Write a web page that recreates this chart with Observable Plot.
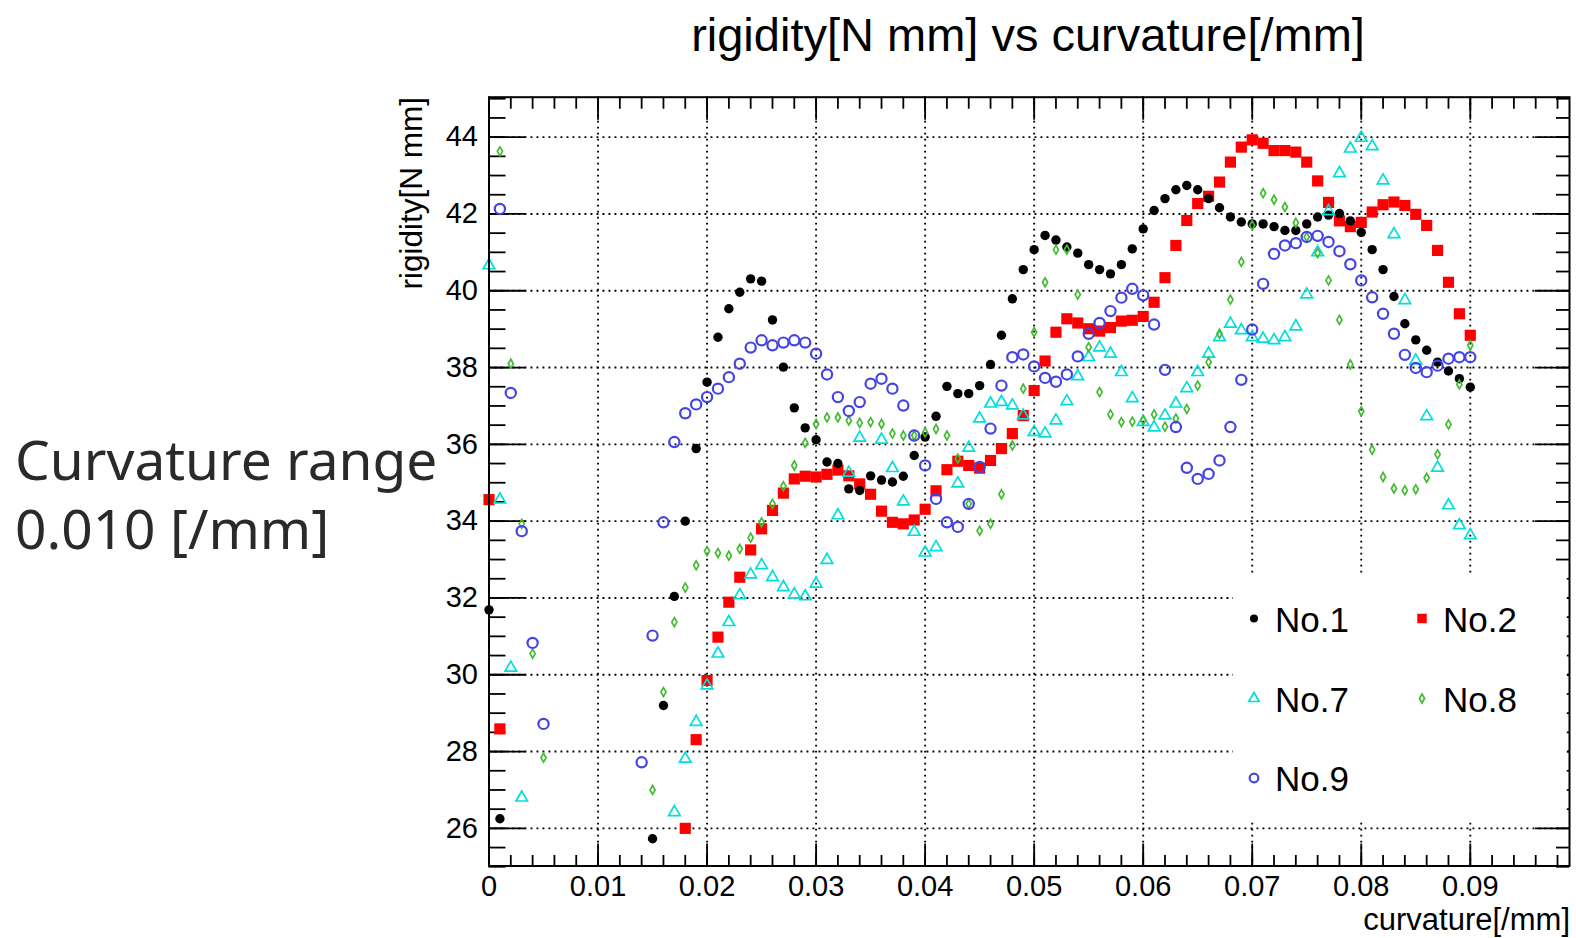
<!DOCTYPE html>
<html>
<head>
<meta charset="utf-8">
<script src="https://cdn.jsdelivr.net/npm/d3@7"></script>
<script src="https://cdn.jsdelivr.net/npm/@observablehq/plot@0.6"></script>
<style>
  body { margin: 0; background: #fff; }
  #wrap { position: relative; width: 1576px; height: 938px; overflow: hidden; background: #fff; }
  #chart { position: absolute; left: 0; top: 0; }
  #overlay { position: absolute; left: 0; top: 0; pointer-events: none; }
</style>
</head>
<body>
<div id="wrap"><div id="chart"></div></div>
<script>
// ---------- data: [curvature (/mm), rigidity (N mm)] ----------
const no1 = [[0,31.69],[0.001,26.25],[0.015,25.73],[0.016,29.2],[0.017,32.04],[0.018,34.0],[0.019,35.89],[0.02,37.62],[0.021,38.79],[0.022,39.53],[0.023,39.96],[0.024,40.31],[0.025,40.25],[0.026,39.24],[0.027,38.01],[0.028,36.95],[0.029,36.43],[0.03,36.12],[0.031,35.54],[0.032,35.5],[0.033,34.84],[0.034,34.8],[0.035,35.18],[0.036,35.07],[0.037,35.02],[0.038,35.17],[0.039,35.71],[0.04,36.19],[0.041,36.73],[0.042,37.51],[0.043,37.32],[0.044,37.32],[0.045,37.53],[0.046,38.08],[0.047,38.84],[0.048,39.79],[0.049,40.55],[0.05,41.07],[0.051,41.44],[0.052,41.32],[0.053,41.14],[0.054,40.98],[0.055,40.68],[0.056,40.55],[0.057,40.44],[0.058,40.68],[0.059,41.09],[0.06,41.61],[0.061,42.09],[0.062,42.4],[0.063,42.63],[0.064,42.74],[0.065,42.63],[0.066,42.4],[0.067,42.16],[0.068,41.92],[0.069,41.79],[0.07,41.74],[0.071,41.74],[0.072,41.67],[0.073,41.57],[0.074,41.57],[0.075,41.74],[0.076,41.92],[0.077,41.97],[0.078,42.01],[0.079,41.82],[0.08,41.52],[0.081,41.07],[0.082,40.55],[0.083,39.85],[0.084,39.14],[0.085,38.72],[0.086,38.45],[0.087,38.14],[0.088,37.91],[0.089,37.71],[0.09,37.49]];

const no2 = [[0,34.56],[0.001,28.59],[0.018,26.0],[0.019,28.31],[0.02,29.85],[0.021,30.98],[0.022,31.89],[0.023,32.54],[0.024,33.25],[0.025,33.8],[0.026,34.28],[0.027,34.73],[0.028,35.1],[0.029,35.17],[0.03,35.15],[0.031,35.22],[0.032,35.33],[0.033,35.18],[0.034,34.97],[0.035,34.7],[0.036,34.26],[0.037,33.97],[0.038,33.93],[0.039,34.03],[0.04,34.31],[0.041,34.79],[0.042,35.34],[0.043,35.56],[0.044,35.45],[0.045,35.38],[0.046,35.58],[0.047,35.89],[0.048,36.28],[0.049,36.75],[0.05,37.4],[0.051,38.17],[0.052,38.92],[0.053,39.27],[0.054,39.16],[0.055,39.01],[0.056,38.95],[0.057,39.04],[0.058,39.21],[0.059,39.23],[0.06,39.33],[0.061,39.7],[0.062,40.34],[0.063,41.18],[0.064,41.83],[0.065,42.27],[0.066,42.46],[0.067,42.83],[0.068,43.35],[0.069,43.74],[0.07,43.93],[0.071,43.84],[0.072,43.65],[0.073,43.65],[0.074,43.61],[0.075,43.35],[0.076,42.86],[0.077,42.3],[0.078,41.82],[0.079,41.67],[0.08,41.78],[0.081,42.05],[0.082,42.24],[0.083,42.31],[0.084,42.22],[0.085,41.99],[0.086,41.7],[0.087,41.05],[0.088,40.22],[0.089,39.4],[0.09,38.84]];

const no7 = [[0,40.66],[0.001,34.56],[0.002,30.18],[0.003,26.8],[0.017,26.42],[0.018,27.81],[0.019,28.77],[0.02,29.72],[0.021,30.55],[0.022,31.37],[0.023,32.07],[0.024,32.61],[0.025,32.85],[0.026,32.54],[0.027,32.28],[0.028,32.09],[0.029,32.04],[0.03,32.37],[0.031,32.99],[0.032,34.15],[0.033,35.26],[0.034,36.17],[0.036,36.12],[0.037,35.38],[0.038,34.51],[0.039,33.72],[0.04,33.18],[0.041,33.32],[0.043,34.98],[0.044,35.91],[0.045,36.67],[0.046,37.06],[0.047,37.1],[0.048,37.01],[0.049,36.75],[0.05,36.32],[0.051,36.28],[0.052,36.62],[0.053,37.12],[0.054,37.77],[0.055,38.27],[0.056,38.52],[0.057,38.36],[0.058,37.88],[0.059,37.2],[0.06,36.58],[0.061,36.44],[0.062,36.75],[0.063,37.06],[0.064,37.46],[0.065,37.88],[0.066,38.36],[0.067,38.79],[0.068,39.14],[0.069,38.97],[0.07,38.79],[0.071,38.75],[0.072,38.71],[0.073,38.79],[0.074,39.07],[0.075,39.9],[0.076,41.0],[0.077,42.07],[0.078,43.06],[0.079,43.7],[0.08,43.98],[0.081,43.76],[0.082,42.87],[0.083,41.47],[0.084,39.75],[0.085,38.18],[0.086,36.73],[0.087,35.39],[0.088,34.41],[0.089,33.89],[0.09,33.63]];

const no8 = [[0.001,43.63],[0.002,38.1],[0.003,33.93],[0.004,30.55],[0.005,27.84],[0.015,27.0],[0.016,29.55],[0.017,31.37],[0.018,32.27],[0.019,32.85],[0.02,33.22],[0.021,33.17],[0.022,33.1],[0.023,33.28],[0.024,33.57],[0.025,33.97],[0.026,34.45],[0.027,34.91],[0.028,35.45],[0.029,36.04],[0.03,36.53],[0.031,36.7],[0.032,36.7],[0.033,36.62],[0.034,36.56],[0.035,36.58],[0.036,36.53],[0.037,36.28],[0.038,36.23],[0.039,36.23],[0.04,36.31],[0.041,36.4],[0.042,36.23],[0.043,35.63],[0.044,34.45],[0.045,33.75],[0.046,33.93],[0.047,34.7],[0.048,35.97],[0.049,37.45],[0.05,38.92],[0.051,40.22],[0.052,41.07],[0.053,41.07],[0.054,39.9],[0.055,38.53],[0.056,37.36],[0.057,36.78],[0.058,36.58],[0.059,36.59],[0.06,36.63],[0.061,36.78],[0.062,36.46],[0.063,36.67],[0.064,36.92],[0.065,37.53],[0.066,38.14],[0.067,38.88],[0.068,39.77],[0.069,40.75],[0.07,41.7],[0.071,42.54],[0.072,42.37],[0.073,42.18],[0.074,41.77],[0.075,41.4],[0.076,40.98],[0.077,40.27],[0.078,39.24],[0.079,38.08],[0.08,36.86],[0.081,35.86],[0.082,35.15],[0.083,34.85],[0.084,34.8],[0.085,34.83],[0.086,35.13],[0.087,35.74],[0.088,36.52],[0.089,37.56],[0.09,38.58]];

const no9 = [[0.001,42.13],[0.002,37.34],[0.003,33.74],[0.004,30.83],[0.005,28.72],[0.014,27.72],[0.015,31.02],[0.016,33.97],[0.017,36.06],[0.018,36.81],[0.019,37.04],[0.02,37.23],[0.021,37.45],[0.022,37.75],[0.023,38.1],[0.024,38.52],[0.025,38.71],[0.026,38.58],[0.027,38.65],[0.028,38.71],[0.029,38.65],[0.03,38.36],[0.031,37.82],[0.032,37.23],[0.033,36.87],[0.034,37.1],[0.035,37.58],[0.036,37.71],[0.037,37.45],[0.038,37.01],[0.039,36.23],[0.04,35.45],[0.041,34.58],[0.042,33.97],[0.043,33.85],[0.044,34.45],[0.045,35.41],[0.046,36.41],[0.047,37.53],[0.048,38.27],[0.049,38.34],[0.05,38.03],[0.051,37.73],[0.052,37.63],[0.053,37.82],[0.054,38.29],[0.055,38.88],[0.056,39.16],[0.057,39.47],[0.058,39.82],[0.059,40.05],[0.06,39.88],[0.061,39.12],[0.062,37.94],[0.063,36.45],[0.064,35.39],[0.065,35.1],[0.066,35.23],[0.067,35.58],[0.068,36.45],[0.069,37.68],[0.07,38.99],[0.071,40.18],[0.072,40.96],[0.073,41.18],[0.074,41.24],[0.075,41.4],[0.076,41.43],[0.077,41.27],[0.078,41.03],[0.079,40.69],[0.08,40.27],[0.081,39.83],[0.082,39.4],[0.083,38.88],[0.084,38.33],[0.085,37.99],[0.086,37.88],[0.087,38.05],[0.088,38.23],[0.089,38.27],[0.09,38.27]];

const seriesNames = ["No.1", "No.2", "No.7", "No.8", "No.9"];
const xTickValues = [0, 0.01, 0.02, 0.03, 0.04, 0.05, 0.06, 0.07, 0.08, 0.09];
const xTickLabels = ["0", "0.01", "0.02", "0.03", "0.04", "0.05", "0.06", "0.07", "0.08", "0.09"];
const yTickValues = [26, 28, 30, 32, 34, 36, 38, 40, 42, 44];
const yTickLabels = ["26", "28", "30", "32", "34", "36", "38", "40", "42", "44"];
const titleText = "rigidity[N mm] vs curvature[/mm]";
const xTitle = "curvature[/mm]";
const yTitle = "rigidity[N mm]";
const sideNote = ["Curvature range", "0.010 [/mm]"];

// ---------- styles ----------
const styles = {
  "No.1": {symbol: "circle", r: 4.7, fill: "#000000", stroke: "none", strokeWidth: 0},
  "No.2": {symbol: "square", r: 6.3, fill: "#ff0000", stroke: "none", strokeWidth: 0},
  "No.7": {symbol: "triangle", r: 4.3, fill: "none", stroke: "#00dede", strokeWidth: 1.7},
  "No.8": {symbol: "diamond", r: 2.7, fill: "none", stroke: "#44bb33", strokeWidth: 1.7},
  "No.9": {symbol: "circle", r: 5.1, fill: "none", stroke: "#4343e6", strokeWidth: 2.2}
};
const seriesData = {"No.1": no1, "No.2": no2, "No.7": no7, "No.8": no8, "No.9": no9};
const drawOrder = ["No.2", "No.1", "No.7", "No.8", "No.9"];

const W = 1576, H = 938;
const mL = 488.5, mR = 7, mT = 96.7, mB = 72.5;
const pW = W - mL - mR, pH = H - mT - mB;

const xMinor = d3.range(0, 0.0991, 0.002);
const yMinor = d3.range(25, 45.04, 0.5);
const tickStyle = {stroke: "#000", strokeWidth: 1.8};

const dotMarks = drawOrder.map(name => {
  const s = styles[name];
  return Plot.dot(seriesData[name], {
    x: d => d[0], y: d => d[1],
    symbol: () => s.symbol, r: s.r,
    fill: s.fill, stroke: s.stroke, strokeWidth: s.strokeWidth
  });
});

const chart = Plot.plot({
  width: W, height: H,
  marginLeft: mL, marginRight: mR, marginTop: mT, marginBottom: mB,
  style: {background: "#fff", fontFamily: "'Liberation Sans', Arial, sans-serif", fontSize: "29px", color: "#000"},
  x: {domain: [0, 0.0991]},
  y: {domain: [25.02, 45.04]},
  marks: [
    Plot.gridX(xTickValues.slice(1), {stroke: "#000", strokeOpacity: 1, strokeWidth: 1.9, strokeDasharray: "1.9,4.1"}),
    Plot.gridY(yTickValues, {stroke: "#000", strokeOpacity: 1, strokeWidth: 1.9, strokeDasharray: "1.9,4.1"}),
    // bottom ticks
    Plot.tickX(xMinor, {x: d => d, insetTop: pH - 10.5, ...tickStyle}),
    Plot.tickX(xTickValues, {x: d => d, insetTop: pH - 22, ...tickStyle}),
    // top ticks
    Plot.tickX(xMinor, {x: d => d, insetBottom: pH - 12, ...tickStyle}),
    Plot.tickX(xTickValues, {x: d => d, insetBottom: pH - 23, ...tickStyle}),
    // left ticks
    Plot.tickY(yMinor, {y: d => d, insetRight: pW - 17, ...tickStyle}),
    Plot.tickY(yTickValues, {y: d => d, insetRight: pW - 37, ...tickStyle}),
    // right ticks
    Plot.tickY(yMinor, {y: d => d, insetLeft: pW - 13, ...tickStyle}),
    Plot.tickY(yTickValues, {y: d => d, insetLeft: pW - 34, ...tickStyle}),
    Plot.axisX(xTickValues, {tickSize: 0, tickPadding: 9, fontSize: 29, label: null,
      tickFormat: d => xTickLabels[xTickValues.indexOf(d)]}),
    Plot.axisY(yTickValues, {tickSize: 0, tickPadding: 11, fontSize: 29, label: null,
      tickFormat: d => yTickLabels[yTickValues.indexOf(d)]}),
    ...dotMarks,
    Plot.frame({stroke: "#000", strokeWidth: 2})
  ]
});
document.getElementById("chart").appendChild(chart);

// ---------- overlay: titles, side note, legend ----------
const ov = d3.select("#wrap").append("svg").attr("id", "overlay")
  .attr("width", W).attr("height", H)
  .style("font-family", "'Liberation Sans', Arial, sans-serif");

ov.append("text").attr("x", 1028).attr("y", 51).attr("text-anchor", "middle")
  .attr("font-size", 47).attr("fill", "#000").text(titleText);

ov.append("text").attr("x", 1570).attr("y", 930).attr("text-anchor", "end")
  .attr("font-size", 31).attr("fill", "#000").text(xTitle);

ov.append("text").attr("transform", "translate(422,97) rotate(-90)")
  .attr("text-anchor", "end").attr("font-size", 31.5).attr("fill", "#000").text(yTitle);

ov.append("text").attr("x", 15).attr("y", 480).attr("font-size", 55)
  .attr("font-family", "'Noto Sans', sans-serif").attr("fill", "#2a2a2a").text(sideNote[0]);
ov.append("text").attr("x", 15).attr("y", 549).attr("font-size", 55)
  .attr("font-family", "'Noto Sans', sans-serif").attr("fill", "#2a2a2a").text(sideNote[1]);

// legend box (covers grid like the original)
const lg = ov.append("g");
lg.append("rect").attr("x", 1233).attr("y", 576).attr("width", 1566.8 - 1233).attr("height", 819 - 576)
  .attr("fill", "#fff");
const symMap = {circle: d3.symbolCircle, square: d3.symbolSquare, triangle: d3.symbolTriangle, diamond: d3.symbolDiamond};
const legendCells = [
  {name: "No.1", col: 0, row: 0}, {name: "No.2", col: 1, row: 0},
  {name: "No.7", col: 0, row: 1}, {name: "No.8", col: 1, row: 1},
  {name: "No.9", col: 0, row: 2}
];
const colMarkerX = [1254, 1422], colTextX = [1275, 1443];
const rowMarkerY = [618.5, 698.5, 778], rowTextY = [631.5, 711.5, 790.5];
const legendScale = {"No.1": 0.85, "No.2": 0.85, "No.7": 0.9, "No.8": 1, "No.9": 0.85};
legendCells.forEach(c => {
  const s = styles[c.name];
  const rr = s.r * legendScale[c.name];
  lg.append("path")
    .attr("transform", `translate(${colMarkerX[c.col]},${rowMarkerY[c.row]})`)
    .attr("d", d3.symbol(symMap[s.symbol], Math.PI * rr * rr)())
    .attr("fill", s.fill).attr("stroke", s.stroke).attr("stroke-width", s.strokeWidth);
  lg.append("text").attr("x", colTextX[c.col]).attr("y", rowTextY[c.row])
    .attr("font-size", 35).attr("fill", "#000").text(c.name);
});
</script>
</body>
</html>
